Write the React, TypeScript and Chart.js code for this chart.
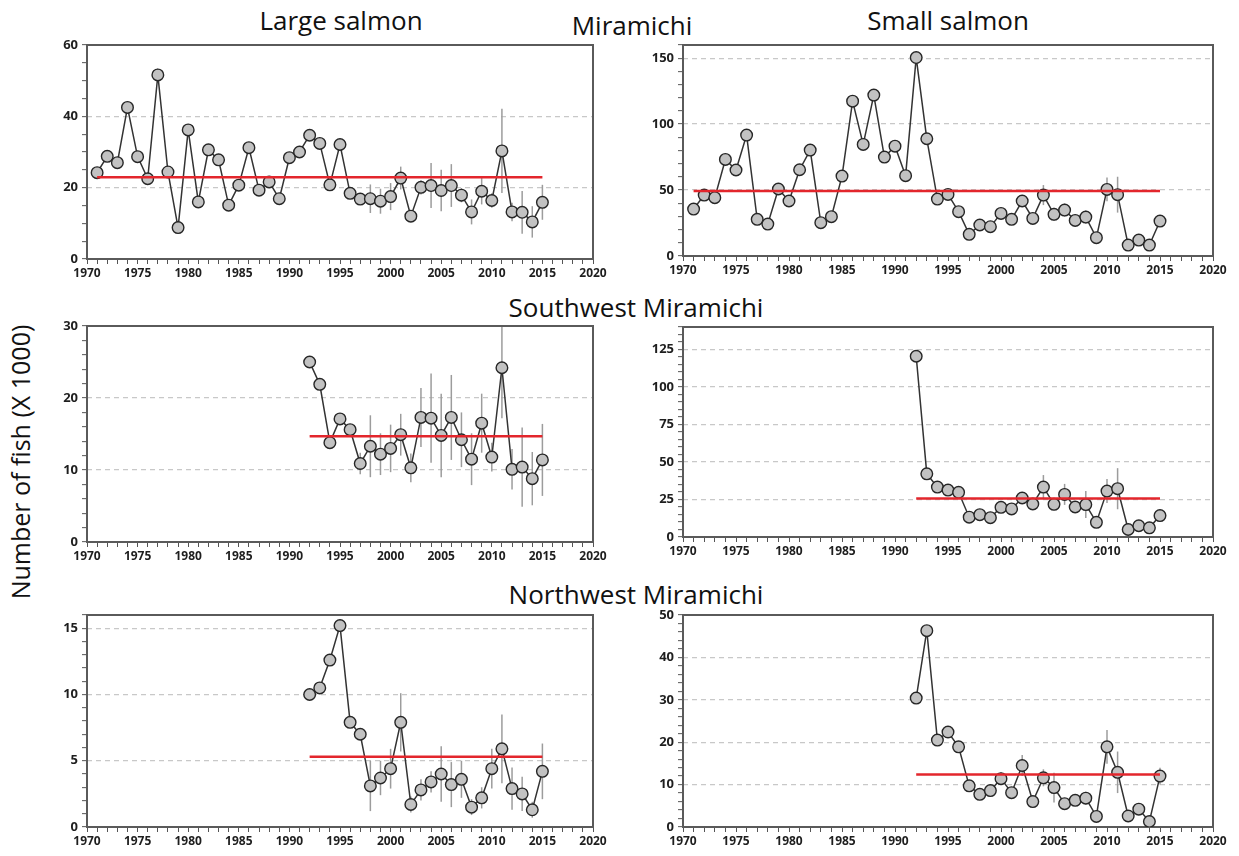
import React, { useEffect, useRef } from "react";
import { Chart, registerables } from "chart.js";

Chart.register(...registerables);

// ---- Survey years ----
const YEARS_ALL = [
  1971, 1972, 1973, 1974, 1975, 1976, 1977, 1978, 1979, 1980,
  1981, 1982, 1983, 1984, 1985, 1986, 1987, 1988, 1989, 1990,
  1991, 1992, 1993, 1994, 1995, 1996, 1997, 1998, 1999, 2000,
  2001, 2002, 2003, 2004, 2005, 2006, 2007, 2008, 2009, 2010,
  2011, 2012, 2013, 2014, 2015,
];
const YEARS_RECENT = [
  1992, 1993, 1994, 1995, 1996, 1997, 1998, 1999, 2000,
  2001, 2002, 2003, 2004, 2005, 2006, 2007, 2008, 2009, 2010,
  2011, 2012, 2013, 2014, 2015,
];

// ---- Miramichi (whole river) ----
const miramichiLarge = [
  24.2, 28.8, 27.0, 42.5, 28.7, 22.5, 51.6, 24.4, 8.8, 36.2,
  16.0, 30.6, 27.8, 15.1, 20.7, 31.2, 19.3, 21.6, 16.9, 28.4,
  30.0, 34.7, 32.4, 20.8, 32.1, 18.4, 16.8, 16.9, 16.2, 17.5,
  22.7, 12.0, 20.1, 20.6, 19.2, 20.6, 17.9, 13.2, 19.0, 16.4,
  30.3, 13.2, 13.1, 10.4, 15.9,
];
const miramichiLargeErr = [
  null, null, null, null, null, null, null, null, null, null,
  null, null, null, null, null, null, null, null, null, null,
  null, null, null, null, null, null, null, 4.0, 3.5, 3.8,
  3.2, 1.5, 2.0, 6.3, 5.8, 6.0, 2.0, 3.5, 3.7, 2.0,
  11.8, 2.6, 6.0, 4.4, 4.9,
];
const miramichiLargeMean = 22.9;

const miramichiSmall = [
  35.6, 46.2, 44.2, 73.2, 65.2, 91.7, 27.8, 24.2, 50.8, 41.7,
  65.4, 80.3, 25.3, 29.8, 60.6, 117.4, 84.6, 122.0, 75.0, 83.3,
  60.9, 150.5, 88.9, 43.2, 46.7, 33.6, 16.4, 23.5, 22.2, 32.3,
  27.8, 41.7, 28.5, 46.2, 31.6, 34.8, 27.0, 29.5, 13.9, 50.5,
  46.5, 8.3, 12.1, 8.3, 26.5,
];
const miramichiSmallErr = [
  null, null, null, null, null, null, null, null, null, null,
  null, null, null, null, null, null, null, null, null, null,
  null, null, null, null, null, null, null, 1.5, 1.5, 2.0,
  2.0, 3.0, 3.0, 7.6, 5.0, 5.0, 4.0, 5.0, 2.0, 9.0,
  13.6, 2.0, 3.0, 2.0, 3.0,
];
const miramichiSmallMean = 49.3;

// ---- Southwest Miramichi ----
const southwestLarge = [
  25.0, 21.9, 13.8, 17.1, 15.6, 10.9, 13.3, 12.2, 13.0,
  14.9, 10.3, 17.3, 17.2, 14.8, 17.3, 14.2, 11.5, 16.5, 11.8,
  24.2, 10.1, 10.4, 8.8, 11.4,
];
const southwestLargeErr = [
  null, null, null, null, null, 1.5, 4.3, 2.9, 3.3,
  2.9, 2.0, 4.1, 6.2, 5.8, 5.9, 3.8, 3.6, 4.1, 2.0,
  7.0, 2.8, 5.5, 3.7, 5.0,
];
const southwestLargeMean = 14.7;

const southwestSmall = [
  120.5, 42.1, 33.3, 31.3, 29.8, 13.2, 14.9, 12.9, 19.8,
  18.7, 26.0, 22.0, 33.3, 21.8, 28.4, 20.0, 21.6, 9.8, 30.6,
  32.2, 5.0, 7.5, 6.1, 14.3,
];
const southwestSmallErr = [
  null, null, null, null, null, 2.0, 2.0, 2.0, 3.0,
  3.0, 4.0, 3.0, 8.0, 4.0, 7.0, 4.0, 9.0, 2.0, 8.0,
  13.7, 2.0, 3.0, 2.0, 3.0,
];
const southwestSmallMean = 25.6;

// ---- Northwest Miramichi ----
const northwestLarge = [
  10.0, 10.5, 12.6, 15.2, 7.9, 7.0, 3.1, 3.7, 4.4,
  7.9, 1.7, 2.8, 3.4, 4.0, 3.2, 3.6, 1.5, 2.2, 4.4,
  5.9, 2.9, 2.5, 1.3, 4.2,
];
const northwestLargeErr = [
  null, null, null, null, null, null, 1.9, 1.3, 1.5,
  2.2, 0.6, 0.8, 0.8, 2.1, 1.7, 1.4, 0.6, 0.8, 1.5,
  2.6, 1.6, 1.3, 0.6, 2.1,
];
const northwestLargeMean = 5.3;

const northwestSmall = [
  30.4, 46.3, 20.5, 22.4, 18.9, 9.7, 7.7, 8.6, 11.4,
  8.1, 14.5, 6.0, 11.6, 9.3, 5.5, 6.3, 6.8, 2.5, 18.9,
  12.9, 2.6, 4.2, 1.3, 12.0,
];
const northwestSmallErr = [
  null, null, null, null, null, 1.0, 1.0, 1.0, 1.5,
  1.0, 2.5, 1.0, 2.0, 3.5, 1.0, 1.0, 1.5, 1.0, 4.0,
  4.9, 1.0, 1.0, 0.8, 2.0,
];
const northwestSmallMean = 12.4;

// ---- Axis settings ----
const X_MIN = 1970;
const X_MAX = 2020;
const X_LABEL_STEP = 5;

const FONT = "'Open Sans', 'Noto Sans', sans-serif";

type PanelProps = {
  years: number[];
  values: number[];
  errors: (number | null)[];
  mean: number;
  yMax: number;
  yMajor: number;
  yMinor: number;
  left: number; // plot area left edge (page px)
  top: number; // plot area top edge
  right: number;
  bottom: number;
};

const AXIS_W = 52;
const AXIS_H = 30;
const PAD_T = 12;
const PAD_R = 22;

function Panel(p: PanelProps) {
  const ref = useRef<HTMLCanvasElement | null>(null);
  const width = AXIS_W + (p.right - p.left) + PAD_R;
  const height = PAD_T + (p.bottom - p.top) + AXIS_H;

  useEffect(() => {
    const canvas = ref.current;
    if (!canvas) return;

    const decor = {
      id: "panelDecor",
      beforeDatasetsDraw(chart: any) {
        const { ctx, chartArea } = chart;
        const xs = chart.scales.x;
        const ys = chart.scales.y;
        // error bars
        ctx.save();
        ctx.strokeStyle = "#9c9c9c";
        ctx.lineWidth = 1.5;
        p.years.forEach((yr, i) => {
          const e = p.errors[i];
          if (e == null) return;
          const v = p.values[i];
          const px = xs.getPixelForValue(yr);
          ctx.beginPath();
          ctx.moveTo(px, ys.getPixelForValue(Math.min(v + e, p.yMax)));
          ctx.lineTo(px, ys.getPixelForValue(Math.max(v - e, 0)));
          ctx.stroke();
        });
        // plot frame
        ctx.strokeStyle = "#5a5a5a";
        ctx.lineWidth = 2;
        ctx.strokeRect(
          chartArea.left,
          chartArea.top,
          chartArea.right - chartArea.left,
          chartArea.bottom - chartArea.top
        );
        ctx.restore();
      },
    };

    const isMajorY = (v: number) => Math.abs(v / p.yMajor - Math.round(v / p.yMajor)) < 1e-6;

    const chart = new Chart(canvas, {
      type: "line",
      data: {
        datasets: [
          {
            label: "mean",
            data: [
              { x: p.years[0], y: p.mean },
              { x: p.years[p.years.length - 1], y: p.mean },
            ],
            borderColor: "#e3262c",
            borderWidth: 2.5,
            pointRadius: 0,
            order: 0,
          },
          {
            label: "count",
            data: p.years.map((yr, i) => ({ x: yr, y: p.values[i] })),
            borderColor: "#333333",
            borderWidth: 1.5,
            pointRadius: 5.8,
            pointBackgroundColor: "#c2c2c2",
            pointBorderColor: "#262626",
            pointBorderWidth: 1.4,
            tension: 0,
            order: 1,
          },
        ],
      },
      options: {
        responsive: false,
        animation: false,
        events: [],
        layout: { padding: { left: 0, top: PAD_T, right: PAD_R, bottom: 0 } },
        plugins: { legend: { display: false }, tooltip: { enabled: false } },
        scales: {
          x: {
            type: "linear",
            min: X_MIN,
            max: X_MAX,
            afterFit: (s: any) => {
              s.height = AXIS_H;
              s.paddingLeft = 0;
              s.paddingRight = 0;
            },
            border: { display: false },
            grid: {
              drawOnChartArea: false,
              drawTicks: true,
              tickLength: 5,
              tickColor: "#555",
              tickWidth: 1,
            },
            ticks: {
              stepSize: 1,
              autoSkip: false,
              maxRotation: 0,
              padding: 2,
              color: "#1e1e1e",
              font: { family: FONT, size: 12, weight: "bold" },
              callback: (v: any) => (Number(v) % X_LABEL_STEP === 0 ? String(v) : ""),
            },
          },
          y: {
            type: "linear",
            min: 0,
            max: p.yMax,
            afterFit: (s: any) => {
              s.width = AXIS_W;
              s.paddingTop = 0;
              s.paddingBottom = 0;
            },
            border: { display: false, dash: [5, 4] },
            grid: {
              drawOnChartArea: true,
              drawTicks: true,
              tickLength: 5,
              tickColor: "#555",
              tickWidth: 1,
              tickBorderDash: [],
              lineWidth: 1.3,
              color: (c: any) => {
                const v = c.tick ? c.tick.value : undefined;
                if (v === undefined || v <= 0 || v >= p.yMax) return "rgba(0,0,0,0)";
                return isMajorY(v) ? "#c8c8c8" : "rgba(0,0,0,0)";
              },
            },
            ticks: {
              stepSize: p.yMinor,
              autoSkip: false,
              padding: 4,
              color: "#1e1e1e",
              font: { family: FONT, size: 13, weight: "bold" },
              callback: (v: any) => (isMajorY(Number(v)) ? String(v) : ""),
            },
          },
        },
      },
      plugins: [decor],
    } as any);

    return () => chart.destroy();
  }, []);

  return (
    <canvas
      ref={ref}
      width={width}
      height={height}
      style={{
        position: "absolute",
        left: p.left - AXIS_W,
        top: p.top - PAD_T,
        width,
        height,
      }}
    />
  );
}

const titleStyle = (x: number, y: number): React.CSSProperties => ({
  position: "absolute",
  left: x,
  top: y,
  transform: "translateX(-50%)",
  fontFamily: FONT,
  fontSize: 26,
  lineHeight: "26px",
  color: "#111",
  whiteSpace: "nowrap",
});

export default function App() {
  const L = { left: 87, right: 593 };
  const R = { left: 683, right: 1213 };
  return (
    <div
      style={{
        position: "absolute",
        left: 0,
        top: 0,
        width: 1239,
        height: 856,
        background: "#fff",
        overflow: "hidden",
      }}
    >
      <div style={titleStyle(341, 7)}>Large salmon</div>
      <div style={titleStyle(632, 12)}>Miramichi</div>
      <div style={titleStyle(948, 7)}>Small salmon</div>
      <div style={titleStyle(636, 294)}>Southwest Miramichi</div>
      <div style={titleStyle(636, 581)}>Northwest Miramichi</div>
      <div
        style={{
          position: "absolute",
          left: 20,
          top: 462,
          transform: "translate(-50%, -50%) rotate(-90deg)",
          fontFamily: FONT,
          fontSize: 25,
          lineHeight: "25px",
          color: "#111",
          whiteSpace: "nowrap",
        }}
      >
        Number of fish (X 1000)
      </div>

      <Panel years={YEARS_ALL} values={miramichiLarge} errors={miramichiLargeErr} mean={miramichiLargeMean}
        yMax={60} yMajor={20} yMinor={5} left={L.left} right={L.right} top={45} bottom={259} />
      <Panel years={YEARS_ALL} values={miramichiSmall} errors={miramichiSmallErr} mean={miramichiSmallMean}
        yMax={160} yMajor={50} yMinor={10} left={R.left} right={R.right} top={45} bottom={256} />
      <Panel years={YEARS_RECENT} values={southwestLarge} errors={southwestLargeErr} mean={southwestLargeMean}
        yMax={30} yMajor={10} yMinor={2} left={L.left} right={L.right} top={326} bottom={542} />
      <Panel years={YEARS_RECENT} values={southwestSmall} errors={southwestSmallErr} mean={southwestSmallMean}
        yMax={140} yMajor={25} yMinor={5} left={R.left} right={R.right} top={327} bottom={537} />
      <Panel years={YEARS_RECENT} values={northwestLarge} errors={northwestLargeErr} mean={northwestLargeMean}
        yMax={16} yMajor={5} yMinor={1} left={L.left} right={L.right} top={615} bottom={827} />
      <Panel years={YEARS_RECENT} values={northwestSmall} errors={northwestSmallErr} mean={northwestSmallMean}
        yMax={50} yMajor={10} yMinor={2} left={R.left} right={R.right} top={615} bottom={827} />
    </div>
  );
}
